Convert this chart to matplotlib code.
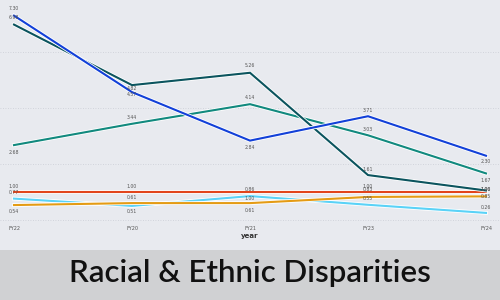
import matplotlib
matplotlib.use('Agg')
import matplotlib.pyplot as plt
import matplotlib.patheffects as pe
from matplotlib.patches import Rectangle

years = ['FY22', 'FY20', 'FY21', 'FY23', 'FY24']

blue = [7.30, 4.57, 2.84, 3.71, 2.30]
dark_teal = [6.98, 4.82, 5.26, 1.61, 1.06]
teal = [2.68, 3.44, 4.14, 3.03, 1.67]
red = [1.00, 1.00, 1.00, 1.00, 1.00]
cyan = [0.77, 0.51, 0.86, 0.55, 0.26]
orange = [0.54, 0.61, 0.61, 0.83, 0.85]

# series: values, colour, label offsets (pixels, + is up)
series = [
    (cyan, '#5ad2f7', [6, -6, 7, 6, 5]),
    (orange, '#e49b14', [-6, 6, -7, 7, 0]),
    (red, '#e2451c', [6, 6, -6, 6, 3]),
    (teal, '#11897e', [-7, 6, 7, 6, -7]),
    (dark_teal, '#0b545e', [7, -3, 7, 6, 1]),
    (blue, '#1240d8', [7, -2, -7, 6, -6]),
]

bg = '#e8eaef'
fig = plt.figure(figsize=(5, 3), dpi=100, facecolor=bg)
ax = fig.add_axes([0, 1 - 223 / 300, 1, 223 / 300])
ax.set_facecolor(bg)

x = list(range(len(years)))
for vals, col, offs in series:
    ax.plot(x, vals, color=col, lw=1.5, solid_joinstyle='miter',
            path_effects=[pe.Stroke(linewidth=2.7, foreground='white'), pe.Normal()])
    for i, v in enumerate(vals):
        ax.annotate('%.2f' % v, (i, v), xytext=(0, offs[i]), textcoords='offset pixels',
                    ha='center', va='center', fontsize=3.3, color='#555555')

ax.set_xlim(-14 / 118, 4 + 14 / 118)
ax.set_ylim(-0.1, 220 / 28)
ax.set_yticks([0, 2, 4, 6])
ax.set_yticklabels([])
ax.tick_params(axis='y', length=0)
ax.grid(axis='y', color='#c9cdd5', linestyle=(0, (1, 2)), lw=0.6)
ax.set_axisbelow(True)
ax.set_xticks(x)
ax.set_xticklabels(years, fontsize=3.5, color='#555555')
ax.tick_params(axis='x', length=0, pad=2)
ax.set_xlabel('year', fontsize=5, fontweight='bold', color='#333333', labelpad=1.5)
for s in ax.spines.values():
    s.set_visible(False)

fig.patches.append(Rectangle((0, 0), 1, 50 / 300, transform=fig.transFigure,
                             facecolor='#d0d1d3', edgecolor='none', zorder=0))
fig.text(0.5, 27 / 300, 'Racial & Ethnic Disparities', ha='center', va='center',
         fontsize=22.5, family='Lato', fontweight='semibold', color='#111111')

fig.savefig('out.png', dpi=100, facecolor=bg)
